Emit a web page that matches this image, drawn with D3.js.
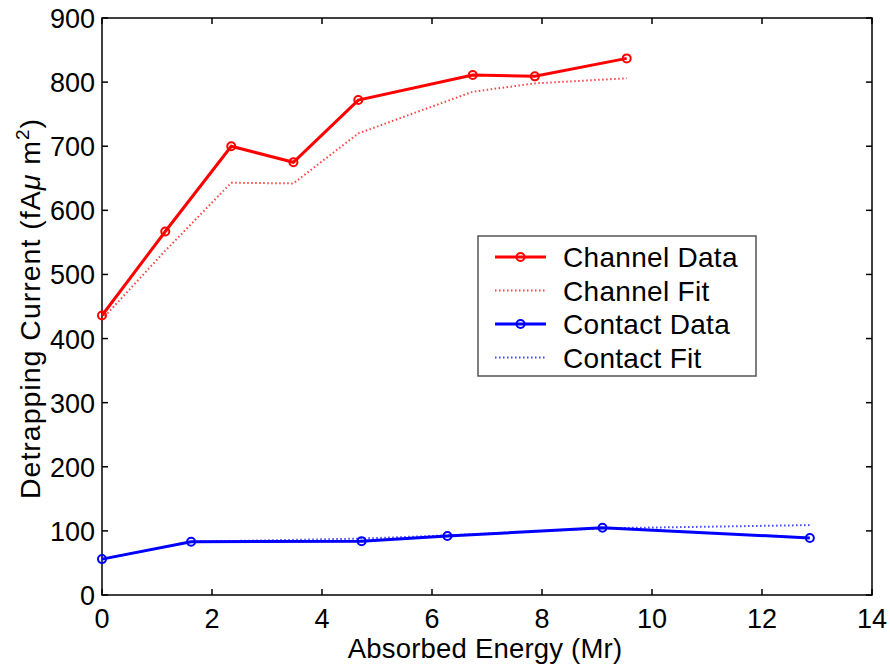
<!DOCTYPE html>
<html>
<head>
<meta charset="utf-8">
<script src="https://cdn.jsdelivr.net/npm/d3@7/dist/d3.min.js"></script>
<style>
  body { margin: 0; background: #fff; }
  text { font-family: "Liberation Sans", Arial, sans-serif; fill: #000; }
</style>
</head>
<body>
<svg id="chart" width="890" height="666"></svg>
<script>
// channel (red) series
var channelX = [0, 1.15, 2.35, 3.48, 4.66, 6.74, 7.87, 9.54];
var channelData = [436, 567, 700, 675, 772, 811, 809, 837];
var channelFit = [430, 537, 643, 642, 720, 785, 798, 806];

// contact (blue) series
var contactX = [0, 1.62, 4.72, 6.28, 9.1, 12.87];
var contactData = [56, 83, 84, 92, 105, 89];
var contactFit = [56, 83, 88, 93, 104, 109];

var xTicks = [0, 2, 4, 6, 8, 10, 12, 14];
var yTicks = [0, 100, 200, 300, 400, 500, 600, 700, 800, 900];

var legendNames = ["Channel Data", "Channel Fit", "Contact Data", "Contact Fit"];

var plotL = 102, plotR = 872, plotT = 18, plotB = 595;
var fs = 27;

var svg = d3.select("#chart");

var x = d3.scaleLinear().domain([0, 14]).range([plotL, plotR]);
var y = d3.scaleLinear().domain([0, 900]).range([plotB, plotT]);

// frame
svg.append("rect")
    .attr("x", plotL).attr("y", plotT)
    .attr("width", plotR - plotL).attr("height", plotB - plotT)
    .attr("fill", "none").attr("stroke", "#000").attr("stroke-width", 1.5);

// ticks (inward, all four sides)
var tl = 6;
xTicks.forEach(function(t) {
    svg.append("line").attr("x1", x(t)).attr("x2", x(t))
        .attr("y1", plotB).attr("y2", plotB - tl)
        .attr("stroke", "#000").attr("stroke-width", 1.5);
    svg.append("line").attr("x1", x(t)).attr("x2", x(t))
        .attr("y1", plotT).attr("y2", plotT + tl)
        .attr("stroke", "#000").attr("stroke-width", 1.5);
    svg.append("text")
        .attr("x", x(t)).attr("y", plotB + 33)
        .attr("text-anchor", "middle")
        .attr("font-size", fs)
        .text(t);
});
yTicks.forEach(function(t) {
    svg.append("line").attr("x1", plotL).attr("x2", plotL + tl)
        .attr("y1", y(t)).attr("y2", y(t))
        .attr("stroke", "#000").attr("stroke-width", 1.5);
    svg.append("line").attr("x1", plotR).attr("x2", plotR - tl)
        .attr("y1", y(t)).attr("y2", y(t))
        .attr("stroke", "#000").attr("stroke-width", 1.5);
    svg.append("text")
        .attr("x", plotL - 7).attr("y", y(t) + 10)
        .attr("text-anchor", "end")
        .attr("font-size", fs)
        .text(t);
});

// axis titles
svg.append("text")
    .attr("x", (plotL + plotR) / 2 - 2).attr("y", 658)
    .attr("text-anchor", "middle")
    .attr("font-size", 27.5)
    .attr("letter-spacing", 0.2)
    .text("Absorbed Energy (Mr)");

var yl = svg.append("text")
    .attr("transform", "translate(40," + ((plotT + plotB) / 2 + 2) + ") rotate(-90)")
    .attr("text-anchor", "middle")
    .attr("font-size", 28.5)
    .attr("letter-spacing", 1);
yl.append("tspan").text("Detrapping Current (fA");
yl.append("tspan").attr("font-style", "italic").text("\u03BC");
yl.append("tspan").text(" m");
yl.append("tspan").attr("dy", -11).attr("font-size", 19).text("2");
yl.append("tspan").attr("dy", 11).text(")");

var line = d3.line()
    .x(function(d) { return x(d[0]); })
    .y(function(d) { return y(d[1]); });

function drawSeries(xs, data, fit, color) {
    var fitPts = xs.map(function(v, i) { return [v, fit[i]]; });
    var dataPts = xs.map(function(v, i) { return [v, data[i]]; });
    svg.append("path").datum(fitPts)
        .attr("d", line)
        .attr("fill", "none")
        .attr("stroke", color)
        .attr("stroke-opacity", 0.75)
        .attr("stroke-width", 2)
        .attr("stroke-dasharray", "1.5,2.5");
    svg.append("path").datum(dataPts)
        .attr("d", line)
        .attr("fill", "none")
        .attr("stroke", color)
        .attr("stroke-width", 3);
    svg.selectAll(null).data(dataPts).enter()
        .append("circle")
        .attr("cx", function(d) { return x(d[0]); })
        .attr("cy", function(d) { return y(d[1]); })
        .attr("r", 4)
        .attr("fill", "none")
        .attr("stroke", color)
        .attr("stroke-width", 2);
}

drawSeries(channelX, channelData, channelFit, "#ff0000");
drawSeries(contactX, contactData, contactFit, "#0000ff");

// legend
var lg = svg.append("g");
lg.append("rect")
    .attr("x", 478).attr("y", 236)
    .attr("width", 278).attr("height", 140)
    .attr("fill", "#fff")
    .attr("stroke", "#555").attr("stroke-width", 1.5);
var legendColors = ["#ff0000", "#ff0000", "#0000ff", "#0000ff"];
legendNames.forEach(function(name, i) {
    var yy = 257 + i * 33.5;
    var isData = i % 2 === 0;
    lg.append("line")
        .attr("x1", 495).attr("x2", 546)
        .attr("y1", yy).attr("y2", yy)
        .attr("stroke", legendColors[i])
        .attr("stroke-opacity", isData ? 1 : 0.75)
        .attr("stroke-width", isData ? 3 : 2)
        .attr("stroke-dasharray", isData ? null : "1.5,2.5");
    if (isData) {
        lg.append("circle")
            .attr("cx", 520.5).attr("cy", yy).attr("r", 4)
            .attr("fill", "none")
            .attr("stroke", legendColors[i]).attr("stroke-width", 2);
    }
    lg.append("text")
        .attr("x", 563).attr("y", yy + 10)
        .attr("font-size", 28)
        .attr("letter-spacing", 0.3)
        .text(name);
});
</script>
</body>
</html>
